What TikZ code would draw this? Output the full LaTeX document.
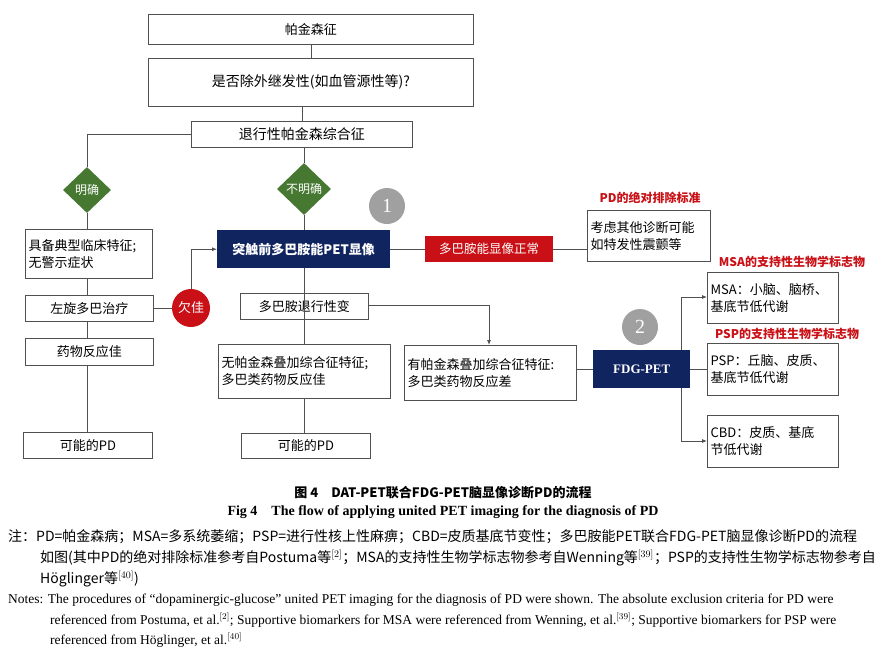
\documentclass[tikz,border=0pt]{standalone}
\usepackage{fontspec}
\setmainfont{Liberation Serif}
\newfontfamily\cjk{Noto Sans CJK SC}
\usetikzlibrary{shapes.geometric,arrows.meta}
\definecolor{navy}{RGB}{16,36,96}
\definecolor{dred}{RGB}{200,16,22}
\definecolor{dgreen}{RGB}{70,120,50}
\definecolor{lgray}{RGB}{160,160,160}
\definecolor{lnc}{RGB}{80,80,80}
\begin{document}
\begin{tikzpicture}[x=1pt,y=-1pt,
  bx/.style={draw=lnc,line width=0.8pt,fill=white,font=\cjk\fontsize{13}{17}\selectfont,inner sep=3pt},
  nb/.style={fill=navy,text=white,font=\cjk\bfseries\fontsize{13}{15}\selectfont},
  rb/.style={fill=dred,text=white,font=\cjk\fontsize{12.5}{15}\selectfont},
  dm/.style={diamond,fill=dgreen,text=white,font=\cjk\fontsize{12}{14}\selectfont,inner sep=0pt},
  gc/.style={circle,fill=lgray,text=white,font=\fontsize{20}{22}\selectfont,minimum size=36pt,inner sep=0pt},
  rl/.style={text=dred,font=\cjk\bfseries\fontsize{12}{14}\selectfont},
  ln/.style={draw=lnc,line width=0.8pt},
  ar/.style={ln,-{Latex[length=5pt,width=4pt]}},
  nt/.style={anchor=west,inner sep=0pt,font=\cjk\fontsize{14}{16}\selectfont},
  ne/.style={anchor=west,inner sep=0pt,font=\fontsize{13.5}{16}\selectfont}]
\useasboundingbox (0,0) rectangle (885,653);
\newcommand\rbox[6]{\node[#1,minimum width=#4-#2,minimum height=#5-#3,anchor=north west] (#6) at (#2,#3) {};}
\rbox{bx}{148}{14}{473}{44}{b1} \node[font=\cjk\fontsize{13}{15}\selectfont] at (b1.center) {帕金森征};
\rbox{bx}{148}{58}{473}{106}{b2} \node[font=\cjk\fontsize{14}{16}\selectfont] at (b2.center) {是否除外继发性(如血管源性等)?};
\rbox{bx}{191}{121}{412}{147}{b3} \node[font=\cjk\fontsize{14}{16}\selectfont] at (b3.center) {退行性帕金森综合征};
\node[dm,minimum width=48pt,minimum height=46pt] (d1) at (87,190) {明确};
\node[dm,minimum width=54pt,minimum height=52pt] (d2) at (304,189) {不明确};
\rbox{bx}{25}{229}{152}{278}{c1} \node[anchor=west,align=left,font=\cjk\fontsize{13}{17}\selectfont] at (c1.west) {具备典型临床特征;\\无警示症状};
\rbox{nb}{217}{230}{390}{268}{c2} \node[nb,fill=none] at (c2.center) {突触前多巴胺能PET显像};
\node[gc] (g1) at (387,206) {1};
\rbox{rb}{425}{236}{553}{262}{c3} \node[rb,fill=none] at (c3.center) {多巴胺能显像正常};
\rbox{bx}{587}{210}{710}{261}{c4} \node[anchor=west,align=left,font=\cjk\fontsize{13}{17}\selectfont] at (c4.west) {考虑其他诊断可能\\如特发性震颤等};
\node[rl] at (650,198) {PD的绝对排除标准};
\rbox{bx}{25}{295}{153}{321}{e1} \node[font=\cjk\fontsize{13}{15}\selectfont] at (e1.center) {左旋多巴治疗};
\node[circle,fill=dred,text=white,minimum size=38pt,inner sep=0pt,font=\cjk\fontsize{13}{15}\selectfont] (q) at (191,308) {欠佳};
\rbox{bx}{240}{293}{368}{319}{e2} \node[font=\cjk\fontsize{13}{15}\selectfont] at (e2.center) {多巴胺退行性变};
\rbox{bx}{25}{338}{153}{365}{f1} \node[font=\cjk\fontsize{13}{15}\selectfont] at (f1.center) {药物反应佳};
\rbox{bx}{218}{344}{390}{398}{f2} \node[anchor=west,align=left,font=\cjk\fontsize{13}{17}\selectfont] at (f2.west) {无帕金森叠加综合征特征;\\多巴类药物反应佳};
\rbox{bx}{404}{345}{576}{400}{f3} \node[anchor=west,align=left,font=\cjk\fontsize{13}{17}\selectfont] at (f3.west) {有帕金森叠加综合征特征:\\多巴类药物反应差};
\rbox{nb}{593}{350}{690}{388}{f4} \node[nb,fill=none,font=\bfseries\fontsize{13}{15}\selectfont] at (f4.center) {FDG-PET};
\node[gc] (g2) at (640,327) {2};
\rbox{bx}{707}{272}{838}{323}{m1} \node[anchor=west,align=left,font=\cjk\fontsize{13}{17}\selectfont] at (m1.west) {MSA：小脑、脑桥、\\基底节低代谢};
\node[rl] at (792,262) {MSA的支持性生物学标志物};
\rbox{bx}{707}{343}{838}{395}{m2} \node[anchor=west,align=left,font=\cjk\fontsize{13}{17}\selectfont] at (m2.west) {PSP：丘脑、皮质、\\基底节低代谢};
\node[rl] at (787,334) {PSP的支持性生物学标志物};
\rbox{bx}{707}{415}{838}{467}{m3} \node[anchor=west,align=left,font=\cjk\fontsize{13}{17}\selectfont] at (m3.west) {CBD：皮质、基底\\节低代谢};
\rbox{bx}{23}{432}{152}{458}{p1} \node[font=\cjk\fontsize{13}{15}\selectfont] at (p1.center) {可能的PD};
\rbox{bx}{241}{433}{370}{458}{p2} \node[font=\cjk\fontsize{13}{15}\selectfont] at (p2.center) {可能的PD};
% connectors
\draw[ln] (b1.south) -- (b2.north);
\draw[ln] (b2.south -| b3.center) -- (b3.north);
\draw[ln] (b3.west) -| (d1.north);
\draw[ln] (b3.south -| d2) -- (d2.north);
\draw[ln] (d1.south) -- (c1.north -| d1);
\draw[ln] (d2.south) -- (c2.north -| d2);
\draw[ln] (c1.south -| d1) -- (e1.north -| d1);
\draw[ln] (e1.south -| d1) -- (f1.north -| d1);
\draw[ln] (f1.south -| d1) -- (p1.north -| d1);
\draw[ln] (e1.east |- q) -- (q.west);
\draw[ar] (q.north) |- (c2.west);
\draw[ln] (c2.south -| d2) -- (e2.south -| d2);
\draw[ln] (e2.south -| d2) -- (f2.north -| d2);
\draw[ln] (f2.south -| d2) -- (p2.north -| d2);
\draw[ln] (c2.east |- c3) -- (c3.west);
\draw[ln] (c3.east) -- (c4.west |- c3);
\coordinate (k) at (489,305);
\draw[ar] (e2.east |- k) -- (k) -- (f3.north -| k);
\draw[ln] (f3.east |- f4) -- (f4.west);
\coordinate (t1) at (681,297);
\coordinate (t2) at (681,441);
\draw[ar] (f4.north -| t1) -- (t1) -- (m1.west |- t1);
\draw[ln] (f4.east |- m2) -- (m2.west);
\draw[ar] (f4.south -| t2) -- (t2) -- (m3.west |- t2);
% caption
\node[font=\cjk\bfseries\fontsize{13}{15}\selectfont] (cap1) at (443,493) {图 4\quad DAT-PET联合FDG-PET脑显像诊断PD的流程};
\node[font=\bfseries\fontsize{14}{16}\selectfont] (cap2) at (443,512) {Fig 4\quad The flow of applying united PET imaging for the diagnosis of PD};
\node[nt] (n1) at (8,537) {注：PD=帕金森病；MSA=多系统萎缩；PSP=进行性核上性麻痹；CBD=皮质基底节变性；多巴胺能PET联合FDG-PET脑显像诊断PD的流程};
\node[nt] (n2) at (40,558) {如图(其中PD的绝对排除标准参考自Postuma等$^{[2]}$；MSA的支持性生物学标志物参考自Wenning等$^{[39]}$；PSP的支持性生物学标志物参考自};
\node[nt] (n3) at (40,579) {Höglinger等$^{[40]}$)};
\node[ne] (n4) at (8,600) {Notes: The procedures of “dopaminergic-glucose” united PET imaging for the diagnosis of PD were shown. The absolute exclusion criteria for PD were};
\node[ne] (n5) at (50,620) {referenced from Postuma, et al.$^{[2]}$; Supportive biomarkers for MSA were referenced from Wenning, et al.$^{[39]}$; Supportive biomarkers for PSP were};
\node[ne] (n6) at (50,640) {referenced from Höglinger, et al.$^{[40]}$};
\end{tikzpicture}
\end{document}
